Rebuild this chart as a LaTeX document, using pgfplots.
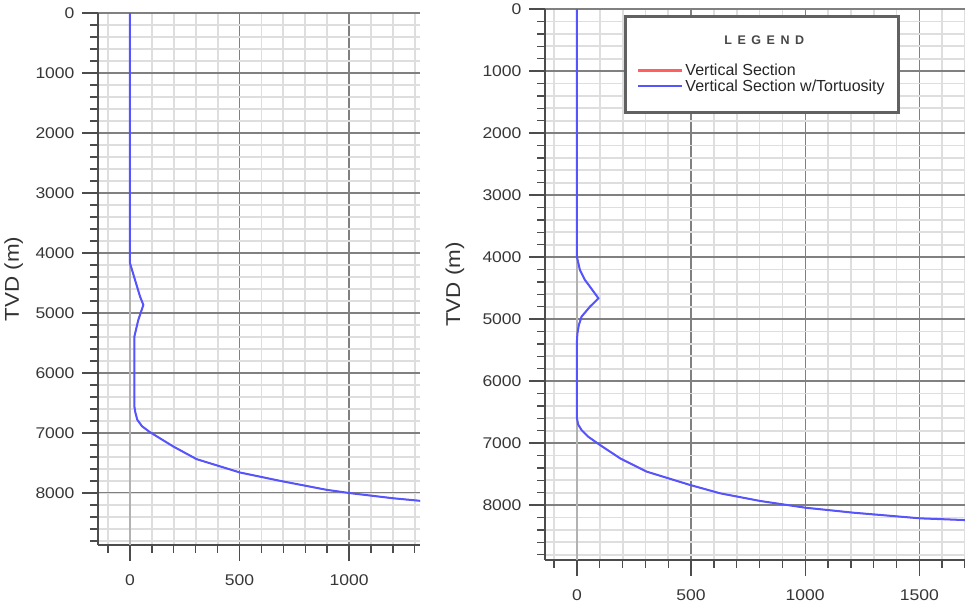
\documentclass[border=0pt]{standalone}
\usepackage{fontspec}
\setmainfont{Liberation Sans}
\usepackage{pgfplots}
\pgfplotsset{compat=1.18}

\definecolor{vsblue}{RGB}{85,85,255}
\definecolor{vsred}{RGB}{255,95,95}
\definecolor{tickgray}{RGB}{55,55,55}

\pgfplotstableread{
x y
0 0
0 4170
23 4450
46 4728
61 4867
38 5117
20 5395
20 6560
24 6650
33 6780
55 6890
91 6988
198 7228
304 7438
502 7661
685 7800
898 7950
1005 8005
1200 8090
1324 8133
1400 8160
}\leftdata

\pgfplotstableread{
x y
0 0
0 4000
3 4050
13 4210
35 4371
57 4479
94 4666
57 4801
20 4962
8 5100
2 5231
0 5350
0 6600
5 6700
20 6790
50 6900
101 7032
189 7247
306 7462
496 7677
627 7811
803 7935
1000 8043
1212 8124
1504 8215
1694 8242
1750 8250
}\rightdata

\pgfplotsset{
  welltraj/.style={
    scale only axis,
    y dir=reverse,
    axis x line=bottom,
    axis y line=left,
    axis line style={-, line width=1.8pt, color=black!70},
    tick align=outside,
    major tick length=16pt,
    minor tick length=8pt,
    tick style={line width=1.4pt, color=black!70},
    grid=both,
    major grid style={line width=1.3pt, color=black!50},
    minor grid style={line width=1.8pt, color=black!13},
    ymin=0,
    ytick={0,1000,...,8000},
    minor ytick={200,400,...,8800},
    tick label style={font=\fontsize{15.5}{17}\selectfont, text=tickgray},
    xticklabel={\scalebox{1.13}[1]{\pgfmathprintnumber{\tick}}},
    yticklabel={\scalebox{1.13}[1]{\pgfmathprintnumber{\tick}}},
    xticklabel style={yshift=-10pt},
    yticklabel style={xshift=-4pt},
    /pgf/number format/1000 sep={},
    /pgf/number format/assume math mode=true,
    ylabel={\scalebox{1.12}[1]{TVD (m)}},
    ylabel style={font=\fontsize{20}{22}\selectfont, text=black!80, anchor=center},
    extra x ticks={0},
    extra x tick style={major grid style={line width=2.8pt, color=black!30}},
    clip=true,
  }
}

\begin{document}
\begin{tikzpicture}
\useasboundingbox (0,0) rectangle (965pt,606pt);

\begin{axis}[welltraj,
  at={(98pt,593pt)}, anchor=north west,
  width=322pt, height=532pt,
  xmin=-146, xmax=1324, ymax=8870,
  xtick={500,1000},
  minor xtick={-100,100,200,300,400,600,700,800,900,1100,1200,1300},
  ylabel style={at={(axis description cs:-0.262,0.5)}},
]
\addplot[vsred, line width=1.2pt] table[x=x,y=y] {\leftdata};
\addplot[vsblue, line width=2pt] table[x=x,y=y] {\leftdata};
\end{axis}

\begin{axis}[welltraj,
  at={(545pt,597pt)}, anchor=north west,
  width=420pt, height=551pt,
  xmin=-140, xmax=1700, ymax=8887,
  xtick={500,1000,1500},
  minor xtick={-100,100,200,300,400,600,700,800,900,1100,1200,1300,1400,1600,1700},
  ylabel style={at={(axis description cs:-0.2143,0.5)}},
  legend style={at={(0.187,0.99)}, anchor=north west,
    draw=black!62, line width=3.5pt,
    fill=white, inner xsep=12pt, inner ysep=18pt,
    font=\fontsize{16}{16}\selectfont, text=black!85,
    row sep=-1.5pt, cells={anchor=west}},
  legend image code/.code={\draw[#1] (0pt,0pt) -- (44pt,0pt);},
]
\addlegendimage{empty legend}
\addlegendentry[text depth=16.5pt]{\hspace*{39pt}{\fontsize{12.5}{13}\selectfont\bfseries\color{black!72}L\hspace{5.5pt}E\hspace{5.5pt}G\hspace{5.5pt}E\hspace{5.5pt}N\hspace{5.5pt}D}}
\addplot[vsred, line width=1.2pt, forget plot] table[x=x,y=y] {\rightdata};
\addlegendimage{vsred, line width=2.2pt}
\addlegendentry{Vertical Section}
\addplot[vsblue, line width=2pt] table[x=x,y=y] {\rightdata};
\addlegendentry{Vertical Section w/Tortuosity}
\end{axis}
\end{tikzpicture}
\end{document}
